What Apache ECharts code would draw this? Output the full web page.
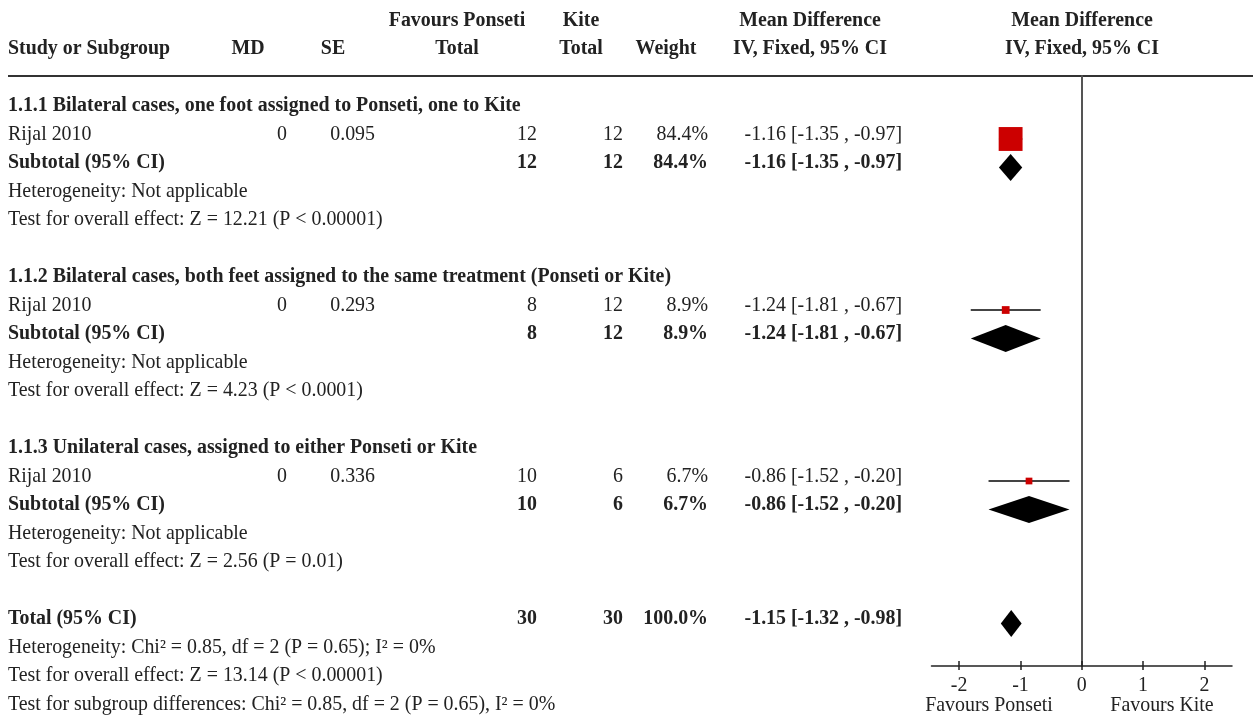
<!DOCTYPE html>
<html>
<head>
<meta charset="utf-8">
<script src="https://cdn.jsdelivr.net/npm/echarts@6/dist/echarts.min.js"></script>
<style>
  html, body { margin: 0; padding: 0; background: #fff; }
  #chart { width: 1253px; height: 716px; }
</style>
</head>
<body>
<div id="chart"></div>
<script>
// row texts (first column)
const rowLabels = [
  '1.1.1 Bilateral cases, one foot assigned to Ponseti, one to Kite',
  'Rijal 2010',
  'Subtotal (95% CI)',
  'Heterogeneity: Not applicable',
  'Test for overall effect: Z = 12.21 (P < 0.00001)',
  '',
  '1.1.2 Bilateral cases, both feet assigned to the same treatment (Ponseti or Kite)',
  'Rijal 2010',
  'Subtotal (95% CI)',
  'Heterogeneity: Not applicable',
  'Test for overall effect: Z = 4.23 (P < 0.0001)',
  '',
  '1.1.3 Unilateral cases, assigned to either Ponseti or Kite',
  'Rijal 2010',
  'Subtotal (95% CI)',
  'Heterogeneity: Not applicable',
  'Test for overall effect: Z = 2.56 (P = 0.01)',
  '',
  'Total (95% CI)',
  'Heterogeneity: Chi\u00b2 = 0.85, df = 2 (P = 0.65); I\u00b2 = 0%',
  'Test for overall effect: Z = 13.14 (P < 0.00001)',
  'Test for subgroup differences: Chi\u00b2 = 0.85, df = 2 (P = 0.65), I\u00b2 = 0%'
];
const boldRows = [0, 2, 6, 8, 12, 14, 18];

// individual studies
const studyRows = [1, 7, 13];
const studyMD = ['0', '0', '0'];
const studySE = ['0.095', '0.293', '0.336'];
const studyPonseti = [12, 8, 10];
const studyKite = [12, 12, 6];
const studyWeight = [84.4, 8.9, 6.7];
const studyEst = [-1.16, -1.24, -0.86];
const studyLo = [-1.35, -1.81, -1.52];
const studyHi = [-0.97, -0.67, -0.20];

// subtotals + total
const poolRows = [2, 8, 14, 18];
const poolPonseti = [12, 8, 10, 30];
const poolKite = [12, 12, 6, 30];
const poolWeight = [84.4, 8.9, 6.7, 100.0];
const poolEst = [-1.16, -1.24, -0.86, -1.15];
const poolLo = [-1.35, -1.81, -1.52, -1.32];
const poolHi = [-0.97, -0.67, -0.20, -0.98];

const xTicks = [-2, -1, 0, 1, 2];

const FONT = '"Liberation Serif", "Times New Roman", serif';
const FS = 19.9;
const TXT = '#222';

function ciText(e, l, h) {
  return e.toFixed(2) + ' [' + l.toFixed(2) + ' , ' + h.toFixed(2) + ']';
}

// build table rows
const tableData = rowLabels.map((label, i) => ({
  row: i, label: label, md: '', se: '', pon: '', kite: '', weight: '', ci: '',
  bold: boldRows.indexOf(i) >= 0
}));
studyRows.forEach((r, i) => {
  const t = tableData[r];
  t.md = studyMD[i]; t.se = studySE[i];
  t.pon = String(studyPonseti[i]); t.kite = String(studyKite[i]);
  t.weight = studyWeight[i].toFixed(1) + '%';
  t.ci = ciText(studyEst[i], studyLo[i], studyHi[i]);
});
poolRows.forEach((r, i) => {
  const t = tableData[r];
  t.pon = String(poolPonseti[i]); t.kite = String(poolKite[i]);
  t.weight = poolWeight[i].toFixed(1) + '%';
  t.ci = ciText(poolEst[i], poolLo[i], poolHi[i]);
});

const chart = echarts.init(document.getElementById('chart'));

function renderTable(params, api) {
  const r = tableData[params.dataIndex];
  const y = api.coord([0, r.row])[1] - 4.5;
  const font = (r.bold ? 'bold ' : '') + FS + 'px ' + FONT;
  const cells = [
    [r.label, 8, 'left'], [r.md, 287, 'right'], [r.se, 375, 'right'],
    [r.pon, 537, 'right'], [r.kite, 623, 'right'], [r.weight, 708, 'right'],
    [r.ci, 902, 'right']
  ];
  return {
    type: 'group',
    children: cells.filter(c => c[0] !== '').map(c => ({
      type: 'text',
      style: { text: c[0], x: c[1], y: y, align: c[2], verticalAlign: 'middle', font: font, fill: TXT }
    }))
  };
}

function renderStudy(params, api) {
  const row = api.value(1);
  const p = api.coord([api.value(0), row]);
  const xl = api.coord([api.value(2), row])[0];
  const xh = api.coord([api.value(3), row])[0];
  const s = 2.6 * Math.sqrt(api.value(4));
  return {
    type: 'group',
    children: [
      { type: 'line', shape: { x1: xl, y1: p[1], x2: xh, y2: p[1] }, style: { stroke: '#444', lineWidth: 2 } },
      { type: 'rect', shape: { x: p[0] - s / 2, y: p[1] - s / 2, width: s, height: s }, style: { fill: '#cc0000' } }
    ]
  };
}

function renderPool(params, api) {
  const row = api.value(1);
  const p = api.coord([api.value(0), row]);
  const xl = api.coord([api.value(2), row])[0];
  const xh = api.coord([api.value(3), row])[0];
  const h = 13.5;
  return {
    type: 'polygon',
    shape: { points: [[xl, p[1]], [p[0], p[1] - h], [xh, p[1]], [p[0], p[1] + h]] },
    style: { fill: '#000' }
  };
}

const headStyle = (text, x, y, align) => ({
  type: 'text',
  style: { text: text, x: x, y: y, align: align, verticalAlign: 'middle', font: 'bold ' + FS + 'px ' + FONT, fill: TXT }
});

const option = {
  animation: false,
  grid: { left: 931.5, right: 21, top: 76, bottom: 50 },
  xAxis: [{
    type: 'value', min: -2.45, max: 2.45, position: 'bottom',
    axisLine: { show: true, onZero: false, lineStyle: { color: '#222', width: 1.5 } },
    axisTick: { show: true, inside: true, length: 5, customValues: xTicks, lineStyle: { color: '#222', width: 1.5 } },
    axisLabel: { show: true, customValues: xTicks, margin: 9.5, fontFamily: FONT, fontSize: FS, color: TXT },
    splitLine: { show: false }
  }, {
    type: 'value', min: -2.45, max: 2.45, position: 'bottom',
    axisLine: { show: false, onZero: false },
    axisTick: { show: true, inside: false, length: 4, customValues: xTicks, lineStyle: { color: '#222', width: 1.5 } },
    axisLabel: { show: false },
    splitLine: { show: false }
  }],
  yAxis: {
    type: 'value', inverse: true, min: -1.21, max: 19.49,
    axisLine: { show: true, onZero: true, lineStyle: { color: '#555', width: 2 } },
    axisTick: { show: false }, axisLabel: { show: false }, splitLine: { show: false }
  },
  graphic: [
    { type: 'line', shape: { x1: 8, y1: 76, x2: 1253, y2: 76 }, style: { stroke: '#333', lineWidth: 2 } },
    headStyle('Favours Ponseti', 457, 21, 'center'),
    headStyle('Kite', 581, 21, 'center'),
    headStyle('Mean Difference', 810, 21, 'center'),
    headStyle('Mean Difference', 1082, 21, 'center'),
    headStyle('Study or Subgroup', 8, 49, 'left'),
    headStyle('MD', 248, 49, 'center'),
    headStyle('SE', 333, 49, 'center'),
    headStyle('Total', 457, 49, 'center'),
    headStyle('Total', 581, 49, 'center'),
    headStyle('Weight', 666, 49, 'center'),
    headStyle('IV, Fixed, 95% CI', 810, 49, 'center'),
    headStyle('IV, Fixed, 95% CI', 1082, 49, 'center'),
    { type: 'text', style: { text: 'Favours Ponseti', x: 989, y: 706, align: 'center', verticalAlign: 'middle', font: FS + 'px ' + FONT, fill: TXT } },
    { type: 'text', style: { text: 'Favours Kite', x: 1162, y: 706, align: 'center', verticalAlign: 'middle', font: FS + 'px ' + FONT, fill: TXT } }
  ],
  series: [{
    type: 'custom', name: 'table', clip: false, silent: true,
    renderItem: renderTable,
    data: tableData.map(r => [0, r.row])
  }, {
    type: 'custom', name: 'studies', clip: false,
    renderItem: renderStudy,
    encode: { x: [0, 2, 3], y: 1 },
    data: studyRows.map((r, i) => [studyEst[i], r, studyLo[i], studyHi[i], studyWeight[i]])
  }, {
    type: 'custom', name: 'pooled', clip: false,
    renderItem: renderPool,
    encode: { x: [0, 2, 3], y: 1 },
    data: poolRows.map((r, i) => [poolEst[i], r, poolLo[i], poolHi[i]])
  }]
};

chart.setOption(option);
window.addEventListener('resize', () => chart.resize());
</script>
</body>
</html>
